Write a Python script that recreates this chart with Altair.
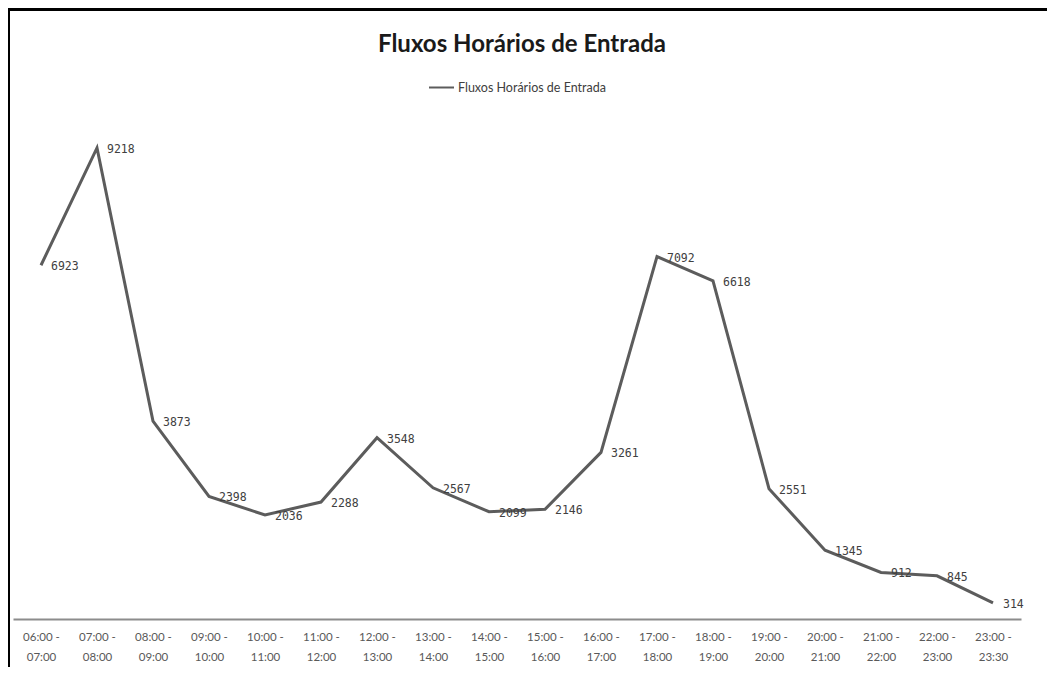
import altair as alt
import pandas as pd

categories = ["06:00 - 07:00", "07:00 - 08:00", "08:00 - 09:00", "09:00 - 10:00",
              "10:00 - 11:00", "11:00 - 12:00", "12:00 - 13:00", "13:00 - 14:00",
              "14:00 - 15:00", "15:00 - 16:00", "16:00 - 17:00", "17:00 - 18:00",
              "18:00 - 19:00", "19:00 - 20:00", "20:00 - 21:00", "21:00 - 22:00",
              "22:00 - 23:00", "23:00 - 23:30"]
values = [6923, 9218, 3873, 2398, 2036, 2288, 3548, 2567, 2099, 2146,
          3261, 7092, 6618, 2551, 1345, 912, 845, 314]
series_name = "Fluxos Horários de Entrada"
title_text = "Fluxos Horários de Entrada"

df = pd.DataFrame({"hora": categories, "valor": values, "serie": series_name})
title_df = pd.DataFrame({"t": [title_text]})

x_enc = alt.X("hora:N", sort=categories, title=None,
              scale=alt.Scale(type="point", padding=0.5),
              axis=alt.Axis(labelAngle=0, ticks=False, grid=False,
                            domainColor="#8c8c8c", domainWidth=2,
                            labelColor="#595959", labelFont="Lato", labelFontSize=11.5,
                            labelPadding=12, labelLineHeight=20,
                            labelExpr="[slice(datum.value, 0, 7), slice(datum.value, 8)]"))
y_enc = alt.Y("valor:Q", scale=alt.Scale(domain=[0, 10000]), axis=None)

line = alt.Chart(df).mark_line(strokeWidth=3).encode(
    x=x_enc, y=y_enc,
    color=alt.Color("serie:N", scale=alt.Scale(range=["#5c5c5c"]),
                    legend=alt.Legend(title=None, orient="none", legendX=415, legendY=-34,
                                      symbolType="stroke", symbolSize=625,
                                      symbolStrokeWidth=2, labelFont="Lato",
                                      labelFontSize=12.5, labelColor="#404040",
                                      labelOffset=3)),
)

labels = alt.Chart(df).mark_text(align="left", baseline="middle", dx=10, dy=2,
                                 font="DejaVu Sans Mono", fontSize=11.5,
                                 color="#404040").encode(
    x=x_enc, y=y_enc, text=alt.Text("valor:Q", format="d"))

title_mark = alt.Chart(title_df).mark_text(font="Lato", fontSize=24, fontWeight="bold",
                                           color="#1a1a1a", align="center",
                                           baseline="middle").encode(
    x=alt.value(509), y=alt.value(-63), text="t:N")

top_border = alt.Chart(df).mark_rule(color="black", strokeWidth=3).encode(
    x=alt.value(-5), x2=alt.value(1034), y=alt.value(-99))
left_border = alt.Chart(df).mark_rule(color="black", strokeWidth=2).encode(
    x=alt.value(-4), y=alt.value(-99), y2=alt.value(560))

chart = alt.layer(top_border, left_border, title_mark, line, labels).properties(
    width=1008, height=511,
    padding={"left": 5, "top": 100, "right": 26, "bottom": 48},
    autosize=alt.AutoSizeParams(type="none"),
).configure_view(stroke=None)

chart.save("out.html", embed_options={"renderer": "svg", "actions": False})
